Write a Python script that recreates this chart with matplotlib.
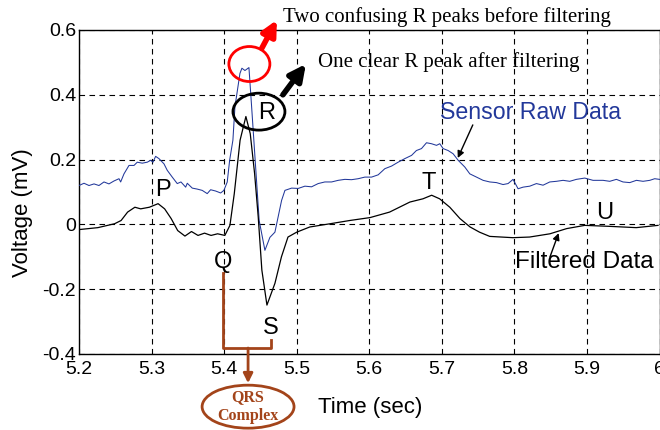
import matplotlib
matplotlib.use("Agg")
import matplotlib.pyplot as plt
from matplotlib.patches import Ellipse

# ---- data ----
raw_t = [5.2000, 5.2069, 5.2138, 5.2207, 5.2275, 5.2344, 5.2413, 5.2482, 5.2551, 5.2574,
         5.2620, 5.2689, 5.2758, 5.2803, 5.2872, 5.2941, 5.2988, 5.3019, 5.3056, 5.3102,
         5.3171, 5.3216, 5.3285, 5.3354, 5.3405, 5.3470, 5.3492, 5.3561, 5.3629, 5.3698,
         5.3767, 5.3814, 5.3883, 5.3952, 5.3997, 5.4043, 5.4076, 5.4121, 5.4149, 5.4218,
         5.4245, 5.4287, 5.4342, 5.4379, 5.4483, 5.4562, 5.4631, 5.4700, 5.4792, 5.4838,
         5.4930, 5.5021, 5.5113, 5.5205, 5.5296, 5.5388, 5.5481, 5.5572, 5.5664, 5.5756,
         5.5847, 5.5939, 5.6032, 5.6123, 5.6215, 5.6307, 5.6398, 5.6490, 5.6583, 5.6650,
         5.6720, 5.6789, 5.6858, 5.6927, 5.6972, 5.7018, 5.7087, 5.7156, 5.7225, 5.7317,
         5.7386, 5.7478, 5.7569, 5.7661, 5.7753, 5.7844, 5.7913, 5.7982, 5.8051, 5.8120,
         5.8212, 5.8304, 5.8395, 5.8488, 5.8580, 5.8671, 5.8763, 5.8855, 5.8970, 5.9084,
         5.9222, 5.9314, 5.9406, 5.9497, 5.9590, 5.9682, 5.9773, 5.9866, 5.9934, 6.0000]
raw_v = [0.120, 0.127, 0.120, 0.125, 0.120, 0.131, 0.125, 0.134, 0.141, 0.131,
         0.156, 0.182, 0.182, 0.192, 0.189, 0.192, 0.198, 0.192, 0.210, 0.203,
         0.187, 0.167, 0.146, 0.126, 0.131, 0.115, 0.127, 0.112, 0.109, 0.105,
         0.095, 0.107, 0.103, 0.097, 0.105, 0.131, 0.198, 0.260, 0.363, 0.466,
         0.482, 0.475, 0.484, 0.363, 0.012, -0.080, -0.040, -0.024, 0.074, 0.105,
         0.112, 0.111, 0.118, 0.116, 0.126, 0.131, 0.131, 0.136, 0.139, 0.138,
         0.141, 0.146, 0.146, 0.153, 0.172, 0.180, 0.192, 0.203, 0.213, 0.228,
         0.234, 0.252, 0.249, 0.244, 0.249, 0.234, 0.228, 0.218, 0.198, 0.177,
         0.156, 0.146, 0.136, 0.131, 0.129, 0.123, 0.126, 0.139, 0.110, 0.115,
         0.118, 0.126, 0.121, 0.131, 0.133, 0.136, 0.133, 0.139, 0.143, 0.136,
         0.136, 0.133, 0.139, 0.131, 0.129, 0.136, 0.133, 0.136, 0.141, 0.139]

filt_t = [5.200, 5.226, 5.249, 5.258, 5.267, 5.277, 5.285, 5.297, 5.309, 5.318,
          5.327, 5.336, 5.346, 5.355, 5.364, 5.373, 5.382, 5.391, 5.401, 5.408,
          5.414, 5.422, 5.430, 5.436, 5.442, 5.447, 5.452, 5.459, 5.470, 5.479,
          5.488, 5.500, 5.518, 5.546, 5.573, 5.601, 5.628, 5.656, 5.674, 5.686,
          5.697, 5.711, 5.725, 5.739, 5.752, 5.766, 5.798, 5.821, 5.849, 5.872,
          5.897, 5.931, 5.968, 5.998]
filt_v = [-0.016, -0.010, 0.002, 0.012, 0.038, 0.053, 0.048, 0.053, 0.064, 0.048,
          0.018, -0.019, -0.036, -0.022, -0.034, -0.027, -0.034, -0.029, -0.034, -0.003,
          0.095, 0.260, 0.333, 0.280, 0.157, 0.023, -0.141, -0.249, -0.182, -0.100,
          -0.039, -0.024, -0.008, 0.002, 0.012, 0.021, 0.038, 0.069, 0.079, 0.090,
          0.079, 0.053, 0.018, -0.008, -0.024, -0.037, -0.041, -0.039, -0.029, -0.013,
          -0.003, -0.006, -0.010, -0.003]

x_ticks = [5.2, 5.3, 5.4, 5.5, 5.6, 5.7, 5.8, 5.9, 6.0]
x_ticklabels = ["5.2", "5.3", "5.4", "5.5", "5.6", "5.7", "5.8", "5.9", "6"]
y_ticks = [-0.4, -0.2, 0.0, 0.2, 0.4, 0.6]
y_ticklabels = ["-0.4", "-0.2", "0", "0.2", "0.4", "0.6"]

SANS = ["Liberation Sans", "DejaVu Sans"]
SERIF = ["Liberation Serif", "DejaVu Serif"]
BLUE = "#22389a"
BROWN = "#a3441a"

fig = plt.figure(figsize=(6.6, 4.3), dpi=100)
ax = fig.add_axes([79 / 660, 1 - 354 / 430, 580.5 / 660, 324 / 430])

ax.plot(raw_t, raw_v, color=BLUE, lw=0.75, zorder=3)
ax.plot(filt_t, filt_v, color="black", lw=0.9, zorder=3)

ax.set_xlim(5.2, 6.0)
ax.set_ylim(-0.4, 0.6)
ax.set_xticks(x_ticks)
ax.set_xticklabels(x_ticklabels, family=SANS, fontsize=14)
ax.set_yticks(y_ticks)
ax.set_yticklabels(y_ticklabels, family=SANS, fontsize=14)
ax.tick_params(axis="x", direction="in", length=0, pad=5)
ax.tick_params(axis="y", direction="in", length=0, pad=2)
ax.grid(True, color="black", lw=0.8, linestyle=(0, (5, 4)))
for s in ax.spines.values():
    s.set_linewidth(1.0)
    s.set_color("black")

ax.set_xlabel("Time (sec)", family=SANS, fontsize=16)
ax.xaxis.set_label_coords(0.501, -0.133)
ax.set_ylabel("Voltage (mV)", family=SANS, fontsize=16)
ax.yaxis.set_label_coords(-0.079, 0.435)

# peak labels
for txt, tx, ty in [("P", 5.3157, 0.106), ("T", 5.682, 0.128), ("U", 5.9245, 0.035),
                    ("Q", 5.398, -0.116), ("S", 5.4645, -0.32), ("R", 5.459, 0.344)]:
    ax.text(tx, ty, txt, family=SANS, fontsize=17, ha="center", va="center", zorder=5)

# red ellipse / arrow
ax.add_patch(Ellipse((5.4348, 0.495), 0.0565, 0.108, fill=False, ec="red", lw=2, zorder=6))
ax.annotate("", xy=(5.4727, 0.631), xytext=(5.452, 0.544), xycoords="data",
            arrowprops=dict(arrowstyle="-|>", color="red", lw=4, mutation_scale=22,
                            shrinkA=0, shrinkB=0), annotation_clip=False)
ax.text(5.481, 0.64, "Two confusing R peaks before filtering", family=SERIF,
        fontsize=15, ha="left", va="center", clip_on=False)

# black ellipse / arrow
ax.add_patch(Ellipse((5.448, 0.348), 0.0716, 0.114, fill=False, ec="black", lw=2, zorder=6))
ax.annotate("", xy=(5.5127, 0.495), xytext=(5.481, 0.40),
            arrowprops=dict(arrowstyle="-|>", color="black", lw=4, mutation_scale=24,
                            shrinkA=0, shrinkB=0))
ax.text(5.529, 0.501, "One clear R peak after filtering", family=SERIF,
        fontsize=15, ha="left", va="center")

# series labels
ax.text(5.697, 0.344, "Sensor Raw Data", family=SANS, fontsize=16.7, color=BLUE,
        ha="left", va="center")
ax.annotate("", xy=(5.722, 0.205), xytext=(5.7427, 0.307),
            arrowprops=dict(arrowstyle="-|>", color="black", lw=1, mutation_scale=10,
                            shrinkA=0, shrinkB=0))
ax.text(5.8005, -0.116, "Filtered Data", family=SANS, fontsize=17.5, color="black",
        ha="left", va="center")
ax.annotate("", xy=(5.861, -0.027), xytext=(5.849, -0.1006),
            arrowprops=dict(arrowstyle="-|>", color="black", lw=1, mutation_scale=10,
                            shrinkA=0, shrinkB=0))

# QRS bracket
qx, sx, mx = 5.3988, 5.464, 5.433
yb = -0.3815
ax.plot([qx, qx, sx, sx], [-0.15, yb, yb, -0.357], color=BROWN, lw=2,
        solid_joinstyle="round", clip_on=False, zorder=6)
ax.annotate("", xy=(mx, -0.49), xytext=(mx, yb), annotation_clip=False,
            arrowprops=dict(arrowstyle="-|>", color=BROWN, lw=2, mutation_scale=14,
                            shrinkA=0, shrinkB=0))
ax.add_patch(Ellipse((mx, -0.5626), 0.1267, 0.1327, fill=False, ec=BROWN, lw=2,
                     clip_on=False, zorder=6))
ax.text(mx, -0.5626, "QRS\nComplex", family=SERIF, fontsize=11.5, fontweight="bold",
        color=BROWN, ha="center", va="center", linespacing=1.25, clip_on=False)

fig.savefig("out.png", dpi=100)
